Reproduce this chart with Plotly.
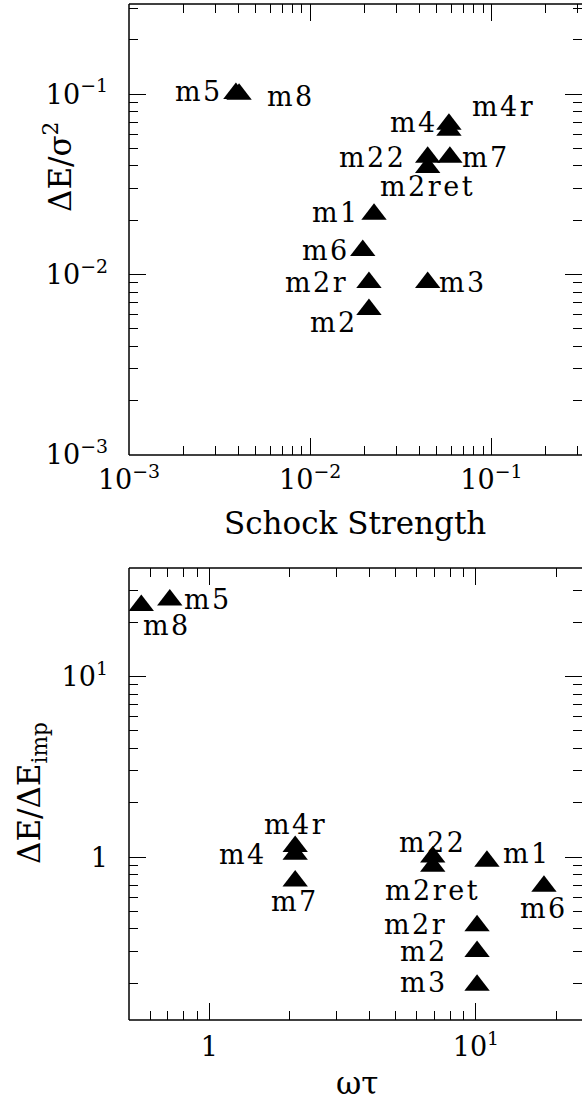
import numpy as np
import plotly.graph_objects as go

# ---------------- data ----------------
names = ["m1", "m2", "m2r", "m2ret", "m22", "m3", "m4", "m4r", "m5", "m6", "m7", "m8"]
shock_strength = [0.0225, 0.0211, 0.0211, 0.0445, 0.0445, 0.0445, 0.0583, 0.0583, 0.00389, 0.0195, 0.0590, 0.00405]
dE_sigma2 = [0.0216, 0.0064, 0.00903, 0.0392, 0.0447, 0.00903, 0.0681, 0.0631, 0.101, 0.0136, 0.0447, 0.100]
omega_tau = [11.0, 10.1, 10.1, 6.89, 6.89, 10.1, 2.10, 2.10, 0.711, 18.0, 2.10, 0.556]
dE_dEimp = [0.947, 0.300, 0.416, 0.888, 1.0, 0.195, 1.035, 1.146, 26.6, 0.688, 0.736, 24.8]

top_xticks = [1e-3, 1e-2, 1e-1]
top_xticktext = ["10<sup>\u22123</sup>", "10<sup>\u22122</sup>", "10<sup>\u22121</sup>"]
top_yticks = [1e-3, 1e-2, 1e-1]
top_yticktext = ["10<sup>\u22123</sup>", "10<sup>\u22122</sup>", "10<sup>\u22121</sup>"]
bot_xticks = [1, 10]
bot_xticktext = ["1", "10<sup>1</sup>"]
bot_yticks = [1, 10]
bot_yticktext = ["1", "10<sup>1</sup>"]

# ---------------- styling: label placement (anchor, xshift, yshift) ----------------
top_label_pos = {
    "m1": ("right", -14, 2), "m2": ("right", -11, -13), "m2r": ("right", -21, 0),
    "m2ret": ("center", 0, -19), "m22": ("right", -22, 0), "m3": ("left", 11, 0),
    "m4": ("right", -11, 2), "m4r": ("left", 23, 24), "m5": ("right", -13, 2),
    "m6": ("right", -13, 0), "m7": ("left", 12, 0), "m8": ("left", 28, -2),
}
bot_label_pos = {
    "m1": ("left", 16, 8), "m2": ("right", -29, 0), "m2r": ("right", -30, 1),
    "m2ret": ("center", 0, -24), "m22": ("center", 0, 15), "m3": ("right", -29, 3),
    "m4": ("right", -28, 0), "m4r": ("center", 0, 22), "m5": ("left", 14, 0),
    "m6": ("center", 0, -22), "m7": ("center", 0, -20), "m8": ("left", 2, -20),
}

FONT = "DejaVu Serif"
W, H = 582, 1100
ML, MR, MT, MB = 129, 0, 4, 80


def px_x(p):
    return (p - ML) / (W - ML - MR)


def px_y(p):
    return (H - MB - p) / (H - MB - MT)


def minor_vals(lo, hi):
    vals = []
    for e in range(lo, hi + 1):
        for d in range(2, 10):
            vals.append(d * 10.0 ** e)
    return vals


def spaced(t, sp=2.5):
    return '<span style="letter-spacing:%spx">%s</span>' % (sp, t)


fig = go.Figure()
marker = dict(symbol="triangle-up", size=22, color="black", line=dict(width=0))
fig.add_trace(go.Scatter(x=shock_strength, y=dE_sigma2, mode="markers", marker=marker,
                         xaxis="x", yaxis="y", showlegend=False, hoverinfo="skip"))
fig.add_trace(go.Scatter(x=omega_tau, y=dE_dEimp, mode="markers", marker=marker,
                         xaxis="x2", yaxis="y2", showlegend=False, hoverinfo="skip"))

annotations = []
lab_font = dict(family=FONT, size=27, color="black")
for n, xv, yv in zip(names, shock_strength, dE_sigma2):
    anc, dx, dy = top_label_pos[n]
    annotations.append(dict(x=np.log10(xv), y=np.log10(yv), xref="x", yref="y", text=spaced(n),
                            showarrow=False, xanchor=anc, yanchor="middle", xshift=dx, yshift=dy,
                            font=lab_font, borderpad=0, borderwidth=0))
for n, xv, yv in zip(names, omega_tau, dE_dEimp):
    anc, dx, dy = bot_label_pos[n]
    annotations.append(dict(x=np.log10(xv), y=np.log10(yv), xref="x2", yref="y2", text=spaced(n),
                            showarrow=False, xanchor=anc, yanchor="middle", xshift=dx, yshift=dy,
                            font=lab_font, borderpad=0, borderwidth=0))

title_font = dict(family=FONT, size=31, color="black")
annotations += [
    dict(x=px_x(355), y=px_y(523), xref="paper", yref="paper", text="Schock Strength",
         showarrow=False, xanchor="center", yanchor="middle", font=title_font),
    dict(x=px_x(357), y=px_y(1083), xref="paper", yref="paper", text="\u03c9\u03c4",
         showarrow=False, xanchor="center", yanchor="middle", font=title_font),
    dict(x=px_x(58), y=px_y(167), xref="paper", yref="paper", text="\u0394E/\u03c3<sup>2</sup>",
         showarrow=False, xanchor="center", yanchor="middle", textangle=-90, font=title_font),
    dict(x=px_x(31), y=px_y(793), xref="paper", yref="paper", text="\u0394E/\u0394E<sub>imp</sub>",
         showarrow=False, xanchor="center", yanchor="middle", textangle=-90, font=title_font),
]

tick_font = dict(family=FONT, size=27, color="black")
common = dict(type="log", showgrid=False, zeroline=False, showline=False,
              mirror="ticks", ticks="inside", ticklen=17, tickwidth=1.3,
              tickcolor="black", tickfont=tick_font, tickmode="array")


def minor(lo, hi):
    return dict(tickmode="array", tickvals=minor_vals(lo, hi), ticks="inside", ticklen=9,
                tickwidth=1.1, tickcolor="black", showgrid=False)


# frame lines: left, bottom and top of each panel (right edge lies at the window border)
shapes = []
for xr, yr in (("x domain", "y domain"), ("x2 domain", "y2 domain")):
    line = dict(color="black", width=1.5)
    shapes.append(dict(type="line", xref=xr, yref=yr, x0=0, x1=0, y0=0, y1=1, line=line))
    shapes.append(dict(type="line", xref=xr, yref=yr, x0=0, x1=1, y0=0, y1=0, line=line))
    shapes.append(dict(type="line", xref=xr, yref=yr, x0=0, x1=1, y0=1, y1=1, line=line))

fig.update_layout(
    width=W, height=H, margin=dict(l=ML, r=MR, t=MT, b=MB),
    paper_bgcolor="white", plot_bgcolor="white",
    xaxis=dict(common, range=[-3, -0.5], domain=[0, 1], anchor="y",
               tickvals=top_xticks, ticktext=top_xticktext, minor=minor(-4, 0), ticklabelstandoff=6),
    yaxis=dict(common, range=[-3, -0.5], domain=[px_y(455), 1.0], anchor="x",
               tickvals=top_yticks, ticktext=top_yticktext, minor=minor(-4, 0), ticklabelstandoff=20),
    xaxis2=dict(common, range=[np.log10(0.5), np.log10(25)], domain=[0, 1], anchor="y2",
                tickvals=bot_xticks, ticktext=bot_xticktext, minor=minor(-1, 2), ticklabelstandoff=8),
    yaxis2=dict(common, range=[np.log10(0.125), np.log10(40)], domain=[0, px_y(568)], anchor="x2",
                tickvals=bot_yticks, ticktext=bot_yticktext, minor=minor(-1, 2), ticklabelstandoff=20),
    annotations=annotations,
    shapes=shapes,
)

fig.write_html("out.html")
